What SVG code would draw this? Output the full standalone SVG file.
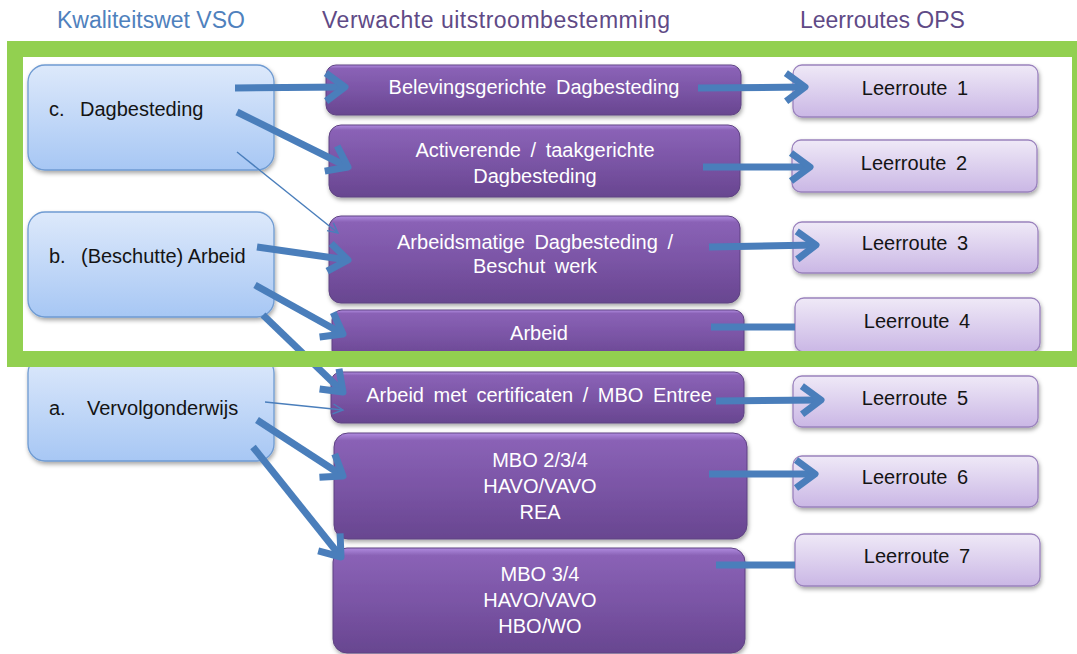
<svg xmlns="http://www.w3.org/2000/svg" width="1077" height="654" viewBox="0 0 1077 654">
<style>
text{font-family:"Liberation Sans",Arial,sans-serif}
.hdr{font-size:23px}
.blue-t{font-size:20px;fill:#141414}
.pur-t{font-size:20px;fill:#ffffff;text-anchor:middle;word-spacing:4px}
.pur-m{font-size:20px;fill:#ffffff;text-anchor:middle}
.lr-t{font-size:20px;fill:#141414;text-anchor:middle;word-spacing:4px}
.bluebox{fill:url(#gBlue);stroke:#6f9bd2;stroke-width:1.3;filter:url(#sh)}
.purbox{fill:url(#gPur);stroke:#5e4282;stroke-width:1;filter:url(#sh)}
.lrbox{fill:url(#gLr);stroke:#9a82bd;stroke-width:1.3;filter:url(#sh)}
.thick{stroke:#4a7ebb;stroke-width:7;fill:none;marker-end:url(#mThick)}
.plain{stroke:#4a7ebb;stroke-width:7;fill:none}
.thin{stroke:#4a7ebb;stroke-width:1.4;fill:none;marker-end:url(#mThin)}
.harrow{stroke:#4a7ebb;stroke-width:4.5;fill:none;marker-end:url(#mHdr);filter:url(#sh2)}
</style>
<defs>
<linearGradient id="gBlue" x1="0" y1="0" x2="0" y2="1">
<stop offset="0" stop-color="#dde9fb"/><stop offset="1" stop-color="#a7c7f4"/>
</linearGradient>
<linearGradient id="gPur" x1="0" y1="0" x2="0" y2="1">
<stop offset="0" stop-color="#b08ce0"/><stop offset="0.07" stop-color="#8a62b6"/><stop offset="0.5" stop-color="#7b55a6"/><stop offset="1" stop-color="#684690"/>
</linearGradient>
<linearGradient id="gLr" x1="0" y1="0" x2="0" y2="1">
<stop offset="0" stop-color="#efe9f7"/><stop offset="1" stop-color="#cab7e5"/>
</linearGradient>
<filter id="sh" x="-10%" y="-20%" width="120%" height="150%">
<feDropShadow dx="1" dy="2.5" stdDeviation="2" flood-color="#000" flood-opacity="0.35"/>
</filter>
<filter id="sh2" x="-20%" y="-50%" width="140%" height="200%">
<feDropShadow dx="1" dy="2" stdDeviation="1.5" flood-color="#000" flood-opacity="0.3"/>
</filter>
<marker id="mThick" markerUnits="userSpaceOnUse" markerWidth="40" markerHeight="40" viewBox="-30 -20 40 40" refX="0" refY="0" orient="auto">
<path d="M-19,-14 L0,0 L-19,14" fill="none" stroke="#4a7ebb" stroke-width="7" stroke-linejoin="round"/>
</marker>
<marker id="mThin" markerUnits="userSpaceOnUse" markerWidth="20" markerHeight="20" viewBox="-15 -10 20 20" refX="0" refY="0" orient="auto">
<path d="M-10,-5 L0,0 L-10,5" fill="none" stroke="#4a7ebb" stroke-width="1.4"/>
</marker>
<marker id="mHdr" markerUnits="userSpaceOnUse" markerWidth="30" markerHeight="20" viewBox="-22 -10 30 20" refX="0" refY="0" orient="auto">
<path d="M-17,-7 L0,0 L-17,7" fill="none" stroke="#4a7ebb" stroke-width="4.5" stroke-linejoin="round"/>
</marker>
</defs>

<rect width="1077" height="654" fill="#ffffff"/>

<g id="header">
<text class="hdr" x="57" y="28" fill="#4f81bd">Kwaliteitswet VSO</text>
<text class="hdr" x="322" y="28" fill="#5f4a86" textLength="348">Verwachte uitstroombestemming</text>
<text class="hdr" x="800" y="28" fill="#5f4a86">Leerroutes OPS</text>
<path class="harrow" d="M253,21 L300,21"/>
<path class="harrow" d="M727,20 L775,20"/>
</g>

<g id="node-c">
<rect class="bluebox" x="28" y="65" width="246" height="105" rx="17"/>
<text class="blue-t" x="49" y="116">c.</text>
<text class="blue-t" x="80" y="116">Dagbesteding</text>
</g>
<g id="node-b">
<rect class="bluebox" x="28" y="212" width="246" height="105" rx="17"/>
<text class="blue-t" x="49" y="263">b.</text>
<text class="blue-t" x="81" y="263">(Beschutte) Arbeid</text>
</g>
<g id="node-a">
<rect class="bluebox" x="28" y="356" width="246" height="105" rx="17"/>
<text class="blue-t" x="49" y="415">a.</text>
<text class="blue-t" x="87" y="415">Vervolgonderwijs</text>
</g>

<g id="node-p1">
<rect class="purbox" x="326" y="65" width="415" height="50" rx="10"/>
<text class="pur-t" x="534" y="94">Belevingsgerichte Dagbesteding</text>
</g>
<g id="node-p2">
<rect class="purbox" x="329" y="125" width="411" height="72" rx="12"/>
<text class="pur-t" x="535" y="157">Activerende / taakgerichte</text>
<text class="pur-t" x="535" y="183">Dagbesteding</text>
</g>
<g id="node-p3">
<rect class="purbox" x="329" y="216" width="411" height="87" rx="12"/>
<text class="pur-t" x="535" y="249">Arbeidsmatige Dagbesteding /</text>
<text class="pur-t" x="535" y="273">Beschut werk</text>
</g>
<g id="node-p4">
<rect class="purbox" x="332" y="310" width="412" height="50" rx="10"/>
<text class="pur-t" x="539" y="340">Arbeid</text>
</g>
<g id="node-p5">
<rect class="purbox" x="331" y="372" width="413" height="51" rx="10"/>
<text class="pur-t" x="539" y="402">Arbeid met certificaten / MBO Entree</text>
</g>
<g id="node-p6">
<rect class="purbox" x="334" y="433" width="413" height="106" rx="14"/>
<text class="pur-m" x="540" y="467">MBO 2/3/4</text>
<text class="pur-m" x="540" y="493">HAVO/VAVO</text>
<text class="pur-m" x="540" y="519">REA</text>
</g>
<g id="node-p7">
<rect class="purbox" x="333" y="548" width="412" height="105" rx="14"/>
<text class="pur-m" x="540" y="581">MBO 3/4</text>
<text class="pur-m" x="540" y="607">HAVO/VAVO</text>
<text class="pur-m" x="540" y="633">HBO/WO</text>
</g>

<g id="node-l1">
<rect class="lrbox" x="793" y="65" width="245" height="52" rx="9"/>
<text class="lr-t" x="915" y="95">Leerroute 1</text>
</g>
<g id="node-l2">
<rect class="lrbox" x="792" y="140" width="245" height="52" rx="9"/>
<text class="lr-t" x="914" y="170">Leerroute 2</text>
</g>
<g id="node-l3">
<rect class="lrbox" x="793" y="222" width="245" height="51" rx="9"/>
<text class="lr-t" x="915" y="250">Leerroute 3</text>
</g>
<g id="node-l4">
<rect class="lrbox" x="795" y="298" width="245" height="54" rx="9"/>
<text class="lr-t" x="917" y="328">Leerroute 4</text>
</g>
<g id="node-l5">
<rect class="lrbox" x="793" y="376" width="245" height="51" rx="9"/>
<text class="lr-t" x="915" y="405">Leerroute 5</text>
</g>
<g id="node-l6">
<rect class="lrbox" x="793" y="456" width="245" height="51" rx="9"/>
<text class="lr-t" x="915" y="484">Leerroute 6</text>
</g>
<g id="node-l7">
<rect class="lrbox" x="795" y="534" width="245" height="52" rx="9"/>
<text class="lr-t" x="917" y="563">Leerroute 7</text>
</g>

<g id="connectors">
<path class="thick" d="M235,88 L345,87"/>
<path class="thick" d="M237,112 L348,167"/>
<path class="thin" d="M237,152 L338,233"/>
<path class="thick" d="M257,247 L348,260"/>
<path class="thick" d="M255,285 L343,334"/>
<path class="thick" d="M263,315 L343,392"/>
<path class="thin" d="M265,402 L343,410"/>
<path class="thick" d="M257,420 L343,476"/>
<path class="thick" d="M253,447 L341,557"/>
<path class="thick" d="M698,88 L805,87"/>
<path class="thick" d="M703,167 L810,167"/>
<path class="thick" d="M709,247 L816,245"/>
<path class="plain" d="M711,327 L795,327"/>
<path class="thick" d="M716,401 L821,400"/>
<path class="thick" d="M709,474 L815,474"/>
<path class="plain" d="M716,565 L795,565"/>
</g>

<g id="highlight-frame">
<rect x="15" y="49" width="1065" height="310" fill="none" stroke="#92d050" stroke-width="16"/>
</g>
</svg>
